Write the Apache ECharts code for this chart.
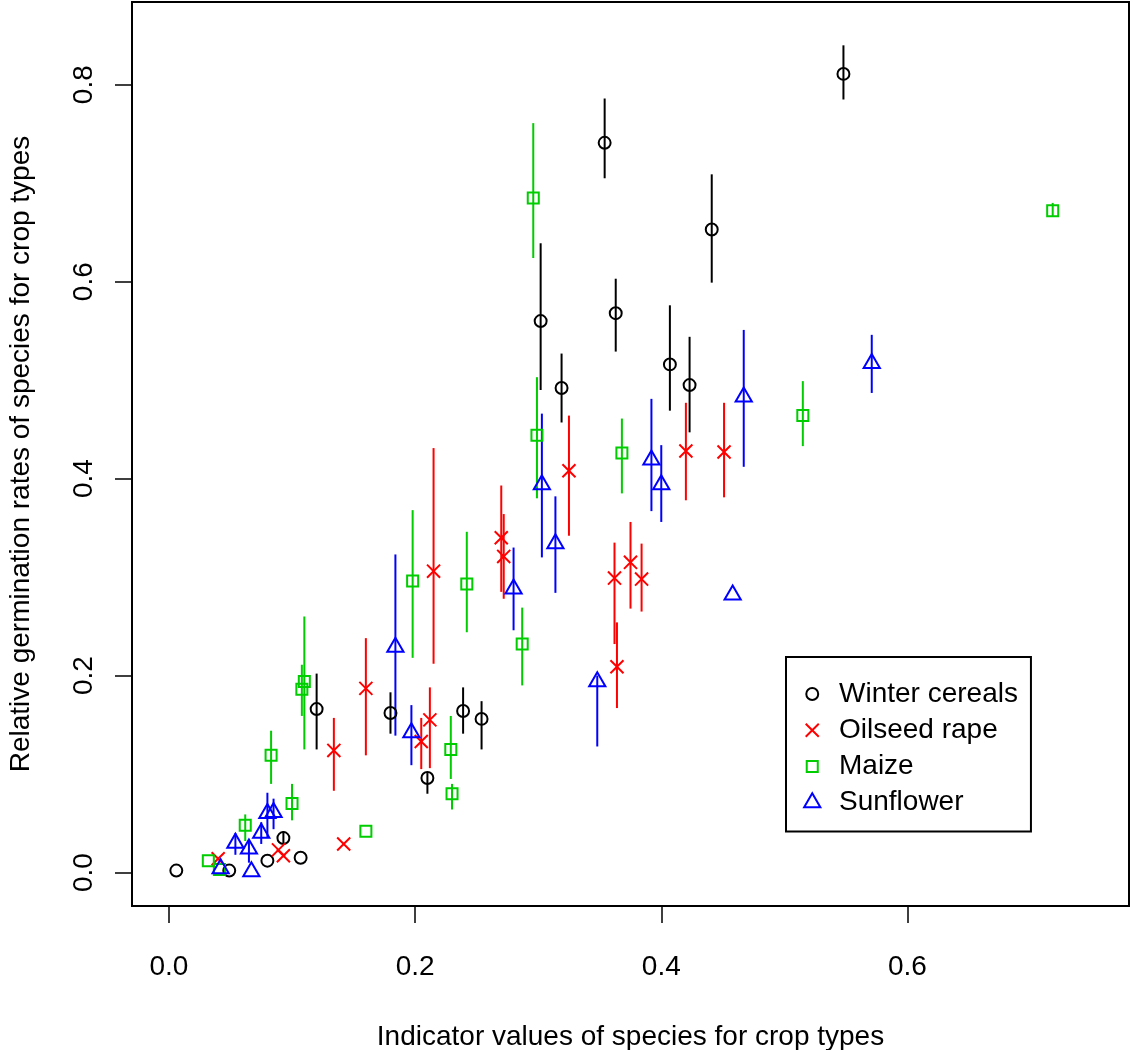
<!DOCTYPE html>
<html>
<head>
<meta charset="utf-8">
<script src="https://cdn.jsdelivr.net/npm/echarts@6/dist/echarts.min.js"></script>
<style>
  html, body { margin: 0; padding: 0; background: #fff; }
  #chart { width: 1133px; height: 1050px; }
</style>
</head>
<body>
<div id="chart"></div>
<script>
// Crop types shown in the legend
const cropNames = ['Winter cereals', 'Oilseed rape', 'Maize', 'Sunflower'];

// Tick positions
const xTicks = [0.0, 0.2, 0.4, 0.6];
const yTicks = [0.0, 0.2, 0.4, 0.6, 0.8];

// Winter cereals: indicator value, germination rate, interval low / high
const cerealsX  = [0.006, 0.049, 0.080, 0.093, 0.107, 0.120, 0.180, 0.210, 0.239, 0.254, 0.302, 0.319, 0.354, 0.363, 0.407, 0.423, 0.441, 0.548];
const cerealsY  = [0.002, 0.002, 0.012, 0.035, 0.015, 0.166, 0.162, 0.096, 0.164, 0.156, 0.560, 0.492, 0.741, 0.568, 0.516, 0.495, 0.653, 0.811];
const cerealsLo = [null, null, null, 0.029, null, 0.125, 0.141, 0.080, 0.141, 0.125, 0.490, 0.457, 0.705, 0.529, 0.469, 0.447, 0.599, 0.785];
const cerealsHi = [null, null, null, 0.042, null, 0.202, 0.183, 0.101, 0.188, 0.174, 0.639, 0.527, 0.786, 0.603, 0.576, 0.544, 0.709, 0.840];

// Oilseed rape
const rapeX  = [0.040, 0.089, 0.093, 0.142, 0.134, 0.160, 0.205, 0.212, 0.215, 0.270, 0.272, 0.325, 0.362, 0.364, 0.375, 0.384, 0.420, 0.451];
const rapeY  = [0.014, 0.023, 0.017, 0.029, 0.124, 0.187, 0.133, 0.155, 0.306, 0.340, 0.321, 0.408, 0.299, 0.209, 0.315, 0.298, 0.428, 0.427];
const rapeLo = [null, null, null, null, 0.083, 0.119, 0.105, 0.106, 0.212, 0.285, 0.278, 0.342, 0.232, 0.167, 0.268, 0.265, 0.378, 0.381];
const rapeHi = [null, null, null, null, 0.157, 0.238, 0.157, 0.188, 0.431, 0.393, 0.364, 0.464, 0.335, 0.254, 0.356, 0.334, 0.477, 0.477];

// Maize
const maizeX  = [0.032, 0.041, 0.062, 0.100, 0.083, 0.110, 0.108, 0.160, 0.229, 0.230, 0.198, 0.242, 0.287, 0.296, 0.299, 0.368, 0.515, 0.718];
const maizeY  = [0.012, 0.003, 0.048, 0.070, 0.119, 0.194, 0.186, 0.042, 0.125, 0.080, 0.296, 0.293, 0.232, 0.685, 0.444, 0.426, 0.464, 0.672];
const maizeLo = [null, null, 0.032, 0.053, 0.090, 0.125, 0.159, null, 0.095, 0.064, 0.218, 0.244, 0.190, 0.624, 0.380, 0.385, 0.433, 0.666];
const maizeHi = [null, null, 0.059, 0.090, 0.144, 0.260, 0.211, null, 0.159, 0.090, 0.368, 0.346, 0.269, 0.761, 0.503, 0.461, 0.499, 0.680];

// Sunflower
const sunX  = [0.042, 0.067, 0.054, 0.065, 0.075, 0.080, 0.085, 0.184, 0.197, 0.280, 0.303, 0.314, 0.348, 0.392, 0.400, 0.458, 0.467, 0.571];
const sunY  = [0.004, 0.001, 0.030, 0.024, 0.040, 0.060, 0.061, 0.229, 0.142, 0.288, 0.394, 0.334, 0.194, 0.419, 0.394, 0.282, 0.483, 0.517];
const sunLo = [null, null, 0.018, 0.010, 0.029, 0.035, 0.044, 0.139, 0.109, 0.246, 0.320, 0.284, 0.128, 0.367, 0.356, null, 0.412, 0.487];
const sunHi = [null, null, 0.040, 0.034, 0.051, 0.081, 0.075, 0.323, 0.170, 0.330, 0.466, 0.382, 0.200, 0.481, 0.434, null, 0.551, 0.546];

// Open plotting symbols; each path shares a 20x20 frame (the two leading
// move-to points) so that one symbolSize gives every shape its own size.
const FRAME = 'M-10,-10M10,10';
const symCircle   = 'path://' + FRAME + 'M5.3,0A5.3,5.3,0,1,1,-5.3,0A5.3,5.3,0,1,1,5.3,0Z';
const symCross    = 'path://' + FRAME + 'M-5.8,-5.8L5.8,5.8M5.8,-5.8L-5.8,5.8';
const symSquare   = 'path://' + FRAME + 'M-4.9,-4.9L4.9,-4.9L4.9,4.9L-4.9,4.9Z';
const symTriangle = 'path://' + FRAME + 'M0,-8.3L7.2,4.15L-7.2,4.15Z';
const SYMBOL_SIZE = 22.5;

const groups = [
  { name: cropNames[0], color: '#000000', symbol: symCircle,   x: cerealsX, y: cerealsY, lo: cerealsLo, hi: cerealsHi },
  { name: cropNames[1], color: '#FF0000', symbol: symCross,    x: rapeX,    y: rapeY,    lo: rapeLo,    hi: rapeHi },
  { name: cropNames[2], color: '#00CD00', symbol: symSquare,   x: maizeX,   y: maizeY,   lo: maizeLo,   hi: maizeHi },
  { name: cropNames[3], color: '#0000FF', symbol: symTriangle, x: sunX,     y: sunY,     lo: sunLo,     hi: sunHi }
];

const FONT = 'Liberation Sans, Arial, sans-serif';
const series = [];

groups.forEach(function (g) {
  const bars = [];
  g.x.forEach(function (xv, i) {
    if (g.lo[i] != null && g.hi[i] != null) bars.push([xv, g.lo[i], g.hi[i]]);
  });
  // vertical interval lines
  series.push({
    name: g.name + ' interval',
    type: 'custom',
    data: bars,
    encode: { x: 0, y: [1, 2] },
    silent: true,
    z: 2,
    renderItem: function (params, api) {
      const p1 = api.coord([api.value(0), api.value(1)]);
      const p2 = api.coord([api.value(0), api.value(2)]);
      return {
        type: 'line',
        shape: { x1: p1[0], y1: p1[1], x2: p2[0], y2: p2[1] },
        style: { stroke: g.color, lineWidth: 2 }
      };
    }
  });
  // point markers
  series.push({
    name: g.name,
    type: 'scatter',
    data: g.x.map(function (xv, i) { return [xv, g.y[i]]; }),
    symbol: g.symbol,
    symbolSize: SYMBOL_SIZE,
    z: 3,
    itemStyle: { color: 'rgba(0,0,0,0)', borderColor: g.color, borderWidth: 2, opacity: 1 }
  });
});

const chart = echarts.init(document.getElementById('chart'), null, { renderer: 'canvas' });
chart.setOption({
  animation: false,
  backgroundColor: '#ffffff',
  textStyle: { fontFamily: FONT, color: '#000' },
  grid: {
    left: 132, top: 2, right: 4, bottom: 144,
    show: true, borderColor: '#000', borderWidth: 2, backgroundColor: 'transparent',
    outerBoundsMode: 'none'
  },
  legend: {
    data: cropNames,
    orient: 'vertical',
    left: 786, top: 657,
    padding: [23, 13, 15, 14],
    itemGap: 8.2,
    itemWidth: SYMBOL_SIZE,
    itemHeight: SYMBOL_SIZE,
    borderColor: '#000',
    borderWidth: 2,
    backgroundColor: '#fff',
    selectedMode: false,
    textStyle: { fontFamily: FONT, fontSize: 28, color: '#000', padding: [0, 0, 0, 10.5] }
  },
  xAxis: {
    type: 'value',
    min: -0.03, max: 0.78,
    name: 'Indicator values of species for crop types',
    nameLocation: 'middle',
    nameGap: 117,
    nameTextStyle: { fontFamily: FONT, fontSize: 28, color: '#000' },
    axisLine: { show: false, onZero: false },
    splitLine: { show: false },
    axisTick: { show: true, length: 17, customValues: xTicks, lineStyle: { color: '#000', width: 1.5 } },
    axisLabel: {
      customValues: xTicks, margin: 47, fontSize: 28, color: '#000', fontFamily: FONT,
      formatter: function (v) { return v.toFixed(1); }
    }
  },
  yAxis: {
    type: 'value',
    min: -0.034, max: 0.884,
    name: 'Relative germination rates of species for crop types',
    nameLocation: 'middle',
    nameGap: 97,
    nameRotate: 90,
    nameTextStyle: { fontFamily: FONT, fontSize: 28, color: '#000' },
    axisLine: { show: false, onZero: false },
    splitLine: { show: false },
    axisTick: { show: true, length: 17, customValues: yTicks, lineStyle: { color: '#000', width: 1.5 } },
    axisLabel: {
      customValues: yTicks, margin: 34, rotate: 90, fontSize: 28, color: '#000', fontFamily: FONT,
      formatter: function (v) { return v.toFixed(1); }
    }
  },
  series: series
});
</script>
</body>
</html>
